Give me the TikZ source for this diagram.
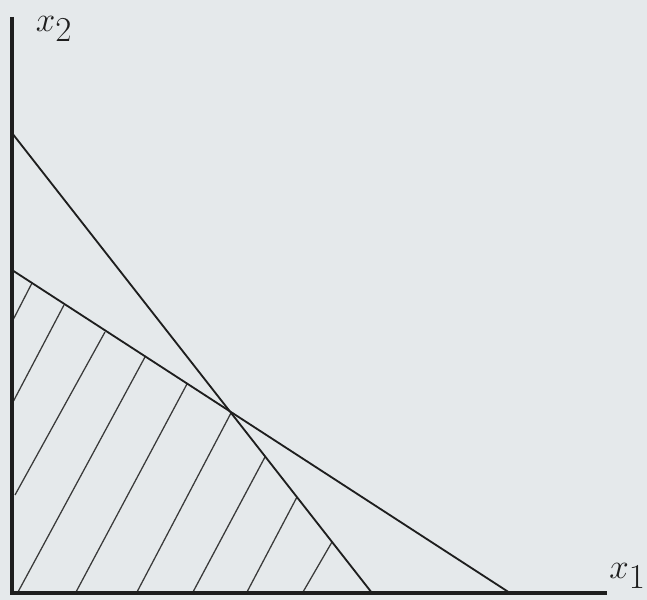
\documentclass[tikz,border=0pt]{standalone}
\usepackage{tikz}
\usetikzlibrary{positioning}
\definecolor{paper}{HTML}{E5E9EB}
\definecolor{ink}{HTML}{1E1E1E}
\definecolor{hatchink}{HTML}{3A3A3A}

\begin{document}
\begin{tikzpicture}[
    x=0.025cm, y=0.025cm,
    axis/.style={line width=2.6pt, color=ink},
    bound/.style={line width=1.3pt, color=ink},
    hatchline/.style={line width=0.9pt, color=hatchink},
    axislabel/.style={font=\fontsize{40}{40}\selectfont, color=ink, inner sep=0pt}
]

% paper and frame
\fill[paper] (-12,-7) rectangle (635,593);
\useasboundingbox (-12,-7) rectangle (635,593);

% key points
\coordinate (origin) at (0,0);
\coordinate (ytop) at (0,576);
\coordinate (xend) at (595,0);
\coordinate (steepA) at (0,460);
\coordinate (steepB) at (360,0);
\coordinate (flatA) at (0,323);
\coordinate (flatB) at (498,0);

% hatching of the feasible region
\foreach \xa/\ya/\xb/\yb in {1/273/20/310, 1/191/52/288, 3/98/93/261,
    6/1/133/236, 64/1/175/209, 125/1/219/180,
    181/1/253/136, 235/1/285/96, 291/1/320/51}
    \draw[hatchline] (\xa,\ya) -- (\xb,\yb);

% constraint lines
\draw[bound] (steepA) -- (steepB);
\draw[bound] (flatA) -- (flatB);

% axes
\draw[axis] (ytop) -- (origin) -- (xend);

\node[axislabel] (xtwo) at (42,564) {$x_2$};
\node[axislabel, anchor=west] (xone) at (597,17) {$x_1$};

\end{tikzpicture}
\end{document}
